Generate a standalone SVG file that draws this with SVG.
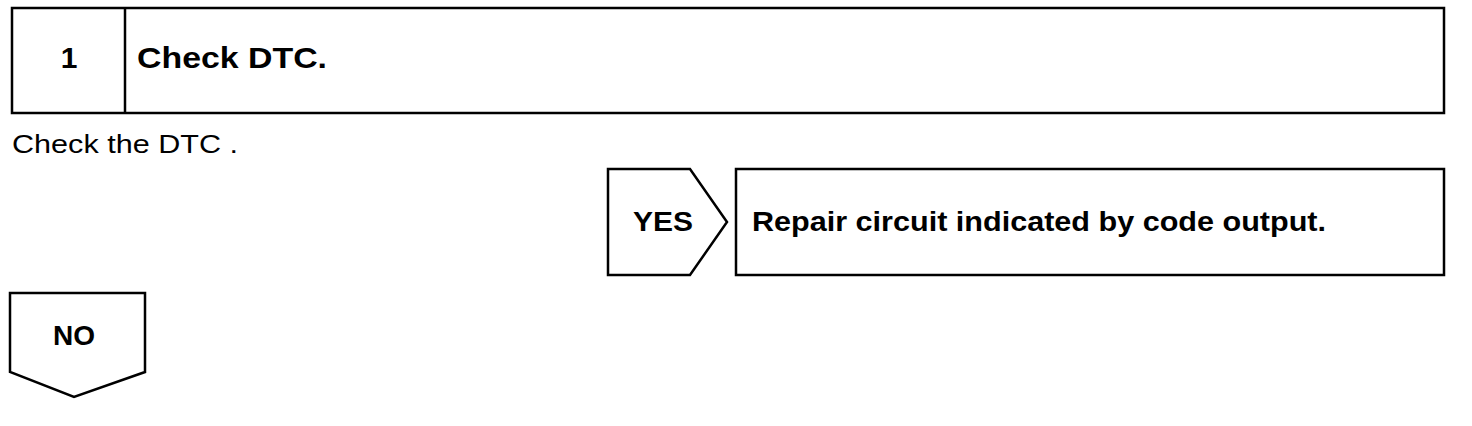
<svg xmlns="http://www.w3.org/2000/svg" width="1472" height="426" viewBox="0 0 1472 426">
<style>
.box{fill:#fff;stroke:#000;stroke-width:2.5}
.b{font-family:"Liberation Sans",Arial,sans-serif;font-weight:bold;fill:#000}
.n{font-family:"Liberation Sans",Arial,sans-serif;fill:#000}
</style>
<rect width="1472" height="426" fill="#fff"/>
<g id="step1">
<rect class="box" x="12" y="8" width="1432" height="105"/>
<line x1="125" y1="8" x2="125" y2="113" stroke="#000" stroke-width="2.5"/>
<text class="b" x="69" y="68" font-size="30" text-anchor="middle">1</text>
<text class="b" x="137" y="68" font-size="30" textLength="190" lengthAdjust="spacingAndGlyphs">Check DTC.</text>
</g>
<g id="desc">
<text class="n" x="12" y="153" font-size="26" textLength="226" lengthAdjust="spacingAndGlyphs">Check the DTC .</text>
</g>
<g id="yes">
<polygon class="box" points="608,169 690,169 727,222 690,275 608,275"/>
<text class="b" x="633" y="231" font-size="28" textLength="60" lengthAdjust="spacingAndGlyphs">YES</text>
</g>
<g id="repair">
<rect class="box" x="736" y="169" width="708" height="106"/>
<text class="b" x="752" y="231" font-size="28" textLength="574" lengthAdjust="spacingAndGlyphs">Repair circuit indicated by code output.</text>
</g>
<g id="no">
<polygon class="box" points="10,293 145,293 145,372 74,397 10,372"/>
<text class="b" x="53" y="345" font-size="28" textLength="42" lengthAdjust="spacingAndGlyphs">NO</text>
</g>
<g id="connectors"></g>
</svg>
